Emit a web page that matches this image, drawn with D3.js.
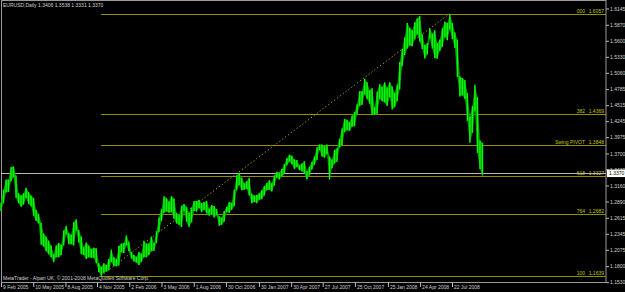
<!DOCTYPE html>
<html>
<head>
<meta charset="utf-8">
<script src="https://cdn.jsdelivr.net/npm/d3@7"></script>
<style>
  body { margin: 0; background: #000; }
  svg { display: block; }
  text { font-family: "Liberation Sans", Arial, sans-serif; }
</style>
</head>
<body>
<div id="chart"></div>
<script>
// Weekly bars (Monday of each week), high and low
const weeks = [
  "2005-02-07","2005-02-14","2005-02-21","2005-02-28","2005-03-07","2005-03-14","2005-03-21","2005-03-28",
  "2005-04-04","2005-04-11","2005-04-18","2005-04-25","2005-05-02","2005-05-09","2005-05-16","2005-05-23",
  "2005-05-30","2005-06-06","2005-06-13","2005-06-20","2005-06-27","2005-07-04","2005-07-11","2005-07-18",
  "2005-07-25","2005-08-01","2005-08-08","2005-08-15","2005-08-22","2005-08-29","2005-09-05","2005-09-12",
  "2005-09-19","2005-09-26","2005-10-03","2005-10-10","2005-10-17","2005-10-24","2005-10-31","2005-11-07",
  "2005-11-14","2005-11-21","2005-11-28","2005-12-05","2005-12-12","2005-12-19","2005-12-26",
  "2006-01-02","2006-01-09","2006-01-16","2006-01-23","2006-01-30","2006-02-06","2006-02-13","2006-02-20",
  "2006-02-27","2006-03-06","2006-03-13","2006-03-20","2006-03-27","2006-04-03","2006-04-10","2006-04-17",
  "2006-04-24","2006-05-01","2006-05-08","2006-05-15","2006-05-22","2006-05-29","2006-06-05","2006-06-12",
  "2006-06-19","2006-06-26","2006-07-03","2006-07-10","2006-07-17","2006-07-24","2006-07-31","2006-08-07",
  "2006-08-14","2006-08-21","2006-08-28","2006-09-04","2006-09-11","2006-09-18","2006-09-25","2006-10-02",
  "2006-10-09","2006-10-16","2006-10-23","2006-10-30","2006-11-06","2006-11-13","2006-11-20","2006-11-27",
  "2006-12-04","2006-12-11","2006-12-18","2006-12-25",
  "2007-01-01","2007-01-08","2007-01-15","2007-01-22","2007-01-29","2007-02-05","2007-02-12","2007-02-19",
  "2007-02-26","2007-03-05","2007-03-12","2007-03-19","2007-03-26","2007-04-02","2007-04-09","2007-04-16",
  "2007-04-23","2007-04-30","2007-05-07","2007-05-14","2007-05-21","2007-05-28","2007-06-04","2007-06-11",
  "2007-06-18","2007-06-25","2007-07-02","2007-07-09","2007-07-16","2007-07-23","2007-07-30","2007-08-06",
  "2007-08-13","2007-08-20","2007-08-27","2007-09-03","2007-09-10","2007-09-17","2007-09-24","2007-10-01",
  "2007-10-08","2007-10-15","2007-10-22","2007-10-29","2007-11-05","2007-11-12","2007-11-19","2007-11-26",
  "2007-12-03","2007-12-10","2007-12-17","2007-12-24","2007-12-31",
  "2008-01-07","2008-01-14","2008-01-21","2008-01-28","2008-02-04","2008-02-11","2008-02-18","2008-02-25",
  "2008-03-03","2008-03-10","2008-03-17","2008-03-24","2008-03-31","2008-04-07","2008-04-14","2008-04-21",
  "2008-04-28","2008-05-05","2008-05-12","2008-05-19","2008-05-26","2008-06-02","2008-06-09","2008-06-16",
  "2008-06-23","2008-06-30","2008-07-07","2008-07-14","2008-07-21","2008-07-28","2008-08-04","2008-08-11",
  "2008-08-18","2008-08-25","2008-09-01","2008-09-08","2008-09-15","2008-09-22","2008-09-29","2008-10-06",
  "2008-10-13"
];

const highs = [
  1.2870,1.3090,1.3260,1.3260,1.3470,1.3480,1.3330,1.3030,1.2990,1.3030,1.3120,1.3050,1.2990,1.2950,1.2750,1.2680,
  1.2530,1.2350,1.2300,1.2230,1.2150,1.2000,1.2150,1.2190,1.2160,1.2400,1.2480,1.2360,1.2330,1.2540,1.2590,1.2410,
  1.2300,1.2120,1.2200,1.2150,1.2090,1.2110,1.2100,1.1850,1.1790,1.1850,1.1820,1.1920,1.2080,1.1950,1.1920,
  1.2140,1.2180,1.2190,1.2320,1.2210,1.2040,1.1990,1.1960,1.2040,1.2010,1.2230,1.2180,1.2180,1.2300,1.2190,1.2390,
  1.2620,1.2760,1.2980,1.2950,1.2890,1.2980,1.2940,1.2700,1.2660,1.2820,1.2850,1.2800,1.2700,1.2790,1.2900,1.2900,
  1.2920,1.2860,1.2880,1.2900,1.2770,1.2830,1.2810,1.2760,1.2640,1.2620,1.2730,1.2800,1.2880,1.2870,1.3090,1.3330,
  1.3370,1.3290,1.3200,1.3230,
  1.3290,1.3020,1.2990,1.3000,1.3030,1.3080,1.3150,1.3200,1.3250,1.3200,1.3330,1.3390,1.3380,1.3440,1.3520,1.3620,
  1.3680,1.3660,1.3600,1.3590,1.3500,1.3530,1.3570,1.3400,1.3480,1.3560,1.3650,1.3800,1.3850,1.3850,1.3820,1.3850,
  1.3650,1.3600,1.3760,1.3790,1.3950,1.4120,1.4280,1.4270,1.4230,1.4340,1.4400,1.4530,1.4750,1.4750,1.4960,1.4900,
  1.4770,1.4800,1.4480,1.4740,1.4870,
  1.4820,1.4900,1.4810,1.4900,1.4830,1.4720,1.4860,1.5240,1.5460,1.5660,1.5900,1.5820,1.5780,1.5910,1.5980,1.6020,
  1.5710,1.5530,1.5560,1.5810,1.5720,1.5780,1.5560,1.5620,1.5810,1.5920,1.5900,1.6040,1.5900,1.5740,1.5620,1.5000,
  1.4970,1.4940,1.4720,1.4320,1.4500,1.4860,1.4650,1.3920,1.3880
];

const lows = [
  1.2730,1.2860,1.3040,1.3050,1.3230,1.3300,1.2950,1.2860,1.2800,1.2840,1.2950,1.2850,1.2810,1.2650,1.2560,1.2520,
  1.2160,1.2130,1.2050,1.2000,1.1950,1.1870,1.1950,1.1950,1.1990,1.2150,1.2340,1.2170,1.2170,1.2150,1.2400,1.2200,
  1.2000,1.1990,1.1920,1.1950,1.1940,1.1940,1.1850,1.1700,1.1640,1.1690,1.1710,1.1730,1.1870,1.1800,1.1800,
  1.1810,1.2030,1.2020,1.2150,1.2050,1.1930,1.1880,1.1860,1.1820,1.1870,1.1950,1.1950,1.1990,1.2050,1.2060,1.2190,
  1.2380,1.2560,1.2700,1.2720,1.2700,1.2710,1.2600,1.2520,1.2500,1.2460,1.2730,1.2550,1.2460,1.2540,1.2730,1.2720,
  1.2780,1.2710,1.2750,1.2690,1.2650,1.2680,1.2620,1.2660,1.2480,1.2500,1.2550,1.2710,1.2700,1.2750,1.2810,1.3080,
  1.3170,1.3080,1.3090,1.3100,
  1.2990,1.2860,1.2880,1.2860,1.2920,1.2930,1.2990,1.3080,1.3090,1.3060,1.3160,1.3290,1.3260,1.3310,1.3350,1.3500,
  1.3560,1.3520,1.3440,1.3470,1.3420,1.3400,1.3370,1.3260,1.3330,1.3430,1.3510,1.3590,1.3760,1.3650,1.3630,1.3690,
  1.3260,1.3450,1.3530,1.3560,1.3800,1.3830,1.4060,1.4090,1.4080,1.4150,1.4160,1.4360,1.4500,1.4520,1.4700,1.4620,
  1.4540,1.4350,1.4350,1.4370,1.4620,
  1.4580,1.4560,1.4500,1.4650,1.4440,1.4480,1.4580,1.4780,1.5170,1.5360,1.5470,1.5520,1.5510,1.5630,1.5710,1.5590,
  1.5460,1.5300,1.5370,1.5640,1.5470,1.5310,1.5300,1.5430,1.5500,1.5660,1.5610,1.5790,1.5630,1.5480,1.4990,1.4660,
  1.4680,1.4620,1.4250,1.3880,1.4050,1.4420,1.3710,1.3440,1.3330
];

const priceTicks = [1.6145,1.5870,1.5600,1.5330,1.5060,1.4785,1.4515,1.4245,1.3975,1.3700,
                    1.3430,1.3160,1.2890,1.2615,1.2345,1.2075,1.1800,1.1530];

const dateTicks = ["2005-02-09","2005-05-10","2005-08-08","2005-11-04","2006-02-02","2006-05-03","2006-08-01",
                   "2006-10-30","2007-01-30","2007-04-30","2007-07-27","2007-10-25","2008-01-25","2008-04-24","2008-07-22"];
const dateLabels = ["9 Feb 2005","10 May 2005","8 Aug 2005","4 Nov 2005","2 Feb 2006","3 May 2006","1 Aug 2006",
                    "30 Oct 2006","30 Jan 2007","30 Apr 2007","27 Jul 2007","25 Oct 2007","25 Jan 2008","24 Apr 2008","22 Jul 2008"];

// Fibonacci retracement drawn from the Nov 2005 low to the Jul 2008 high
const fibNames = ["000","382","Swing PIVOT","618","764","100"];
const fibLevels = [0, 0.382, 0.5, 0.618, 0.764, 1];
const fibHigh = 1.6057, fibLow = 1.1639;
const fibLowDate = "2005-11-15", fibHighDate = "2008-07-15";

const lastPrice = 1.3370;
const title = "EURUSD,Daily  1.3406 1.3538 1.3331 1.3370";
const copyright = "MetaTrader - Alpari UK, \u00a9 2001-2008 MetaQuotes Software Corp.";

const W = 625, H = 292;
const plotRight = 606, plotBottom = 282;
const parse = d3.timeParse("%Y-%m-%d");
const fmt = d3.format(".4f");

const svg = d3.select("#chart").append("svg")
  .attr("width", W).attr("height", H)
  .style("background", "#000");

const x = d3.scaleTime()
  .domain([parse(dateTicks[0]), parse(dateTicks[dateTicks.length - 1])])
  .range([1, 452]);

const y = d3.scaleLinear()
  .domain([fibLow, fibHigh])
  .range([275.7, 13.7]);

const barX = d => x(d3.timeDay.offset(parse(d), 2));

// frame
svg.append("rect")
  .attr("x", 1.5).attr("y", 0.5)
  .attr("width", plotRight - 1.5).attr("height", plotBottom)
  .attr("fill", "none")
  .attr("stroke", "#9a9a9a");

// fib lines
const fibG = svg.append("g");
fibLevels.forEach((lvl, i) => {
  const price = fibHigh - lvl * (fibHigh - fibLow);
  const yy = Math.round(y(price)) + 0.5;
  fibG.append("line")
    .attr("x1", x(parse(fibLowDate))).attr("x2", plotRight)
    .attr("y1", yy).attr("y2", yy)
    .attr("stroke", "#8f8f00").attr("stroke-width", 1);
  fibG.append("text")
    .attr("x", 585).attr("y", yy - 1.5)
    .attr("text-anchor", "end")
    .attr("font-size", "5px")
    .attr("fill", "#c4c400")
    .text(fibNames[i]);
  fibG.append("text")
    .attr("x", 604).attr("y", yy - 1.5)
    .attr("text-anchor", "end")
    .attr("font-size", "5px")
    .attr("fill", "#c4c400")
    .text(fmt(price));
});

// dotted trend line of the fib tool
svg.append("line")
  .attr("x1", x(parse(fibLowDate))).attr("y1", y(fibLow))
  .attr("x2", x(parse(fibHighDate))).attr("y2", y(fibHigh))
  .attr("stroke", "#b4b400")
  .attr("stroke-width", 1)
  .attr("stroke-dasharray", "1.2,2.4");

// bid line
const bidY = Math.round(y(lastPrice)) + 0.5;
svg.append("line")
  .attr("x1", 1).attr("x2", plotRight)
  .attr("y1", bidY).attr("y2", bidY)
  .attr("stroke", "#b8b8b8").attr("stroke-width", 1);

// price band: dim high-low range underneath, bright bars on top
const band = d3.area()
  .x(d => barX(d))
  .y0((d, i) => y(lows[i]))
  .y1((d, i) => y(highs[i]));

svg.append("path")
  .datum(weeks)
  .attr("d", band)
  .attr("fill", "#009a00");

svg.append("g")
  .selectAll("line")
  .data(weeks)
  .enter()
  .append("line")
  .attr("x1", barX)
  .attr("x2", barX)
  .attr("y1", (d, i) => y(highs[i]))
  .attr("y2", (d, i) => y(lows[i]))
  .attr("stroke", "#00ff00")
  .attr("stroke-width", 1.4);

// right price axis
const yAxis = svg.append("g")
  .attr("transform", `translate(${plotRight},0)`)
  .call(d3.axisRight(y).tickValues(priceTicks).tickSize(3).tickPadding(1).tickFormat(fmt));
yAxis.select(".domain").remove();
yAxis.selectAll("line").attr("stroke", "#bbbbbb");
yAxis.selectAll("text")
  .attr("font-size", "5px")
  .attr("fill", "#d0d0d0")
  .attr("font-family", "'Liberation Sans', Arial, sans-serif");

// current price tag (covers the lower part of the 1.3430 label, as in MetaTrader)
svg.append("rect")
  .attr("x", plotRight + 1).attr("y", y(lastPrice) - 3.5)
  .attr("width", 18).attr("height", 7.5)
  .attr("fill", "#ffffff");
svg.append("text")
  .attr("x", plotRight + 3).attr("y", y(lastPrice) + 2)
  .attr("font-size", "5px")
  .attr("fill", "#000")
  .text(fmt(lastPrice));

// bottom time axis
const xAxis = svg.append("g")
  .attr("transform", `translate(0,${plotBottom})`)
  .call(d3.axisBottom(x)
    .tickValues(dateTicks.map(parse))
    .tickSize(5)
    .tickFormat((d, i) => dateLabels[i]));
xAxis.select(".domain").remove();
xAxis.selectAll("line").attr("stroke", "#bbbbbb");
xAxis.selectAll("text")
  .attr("text-anchor", "start")
  .attr("dx", "1.5")
  .attr("dy", "0")
  .attr("y", 7)
  .attr("font-size", "5px")
  .attr("fill", "#d0d0d0")
  .attr("font-family", "'Liberation Sans', Arial, sans-serif");

// header and footer text
svg.append("text")
  .attr("x", 3).attr("y", 7)
  .attr("font-size", "5px")
  .attr("fill", "#d0d0d0")
  .text(title);

svg.append("text")
  .attr("x", 3).attr("y", 280)
  .attr("font-size", "5px")
  .attr("fill", "#d0d0d0")
  .text(copyright);
</script>
</body>
</html>
